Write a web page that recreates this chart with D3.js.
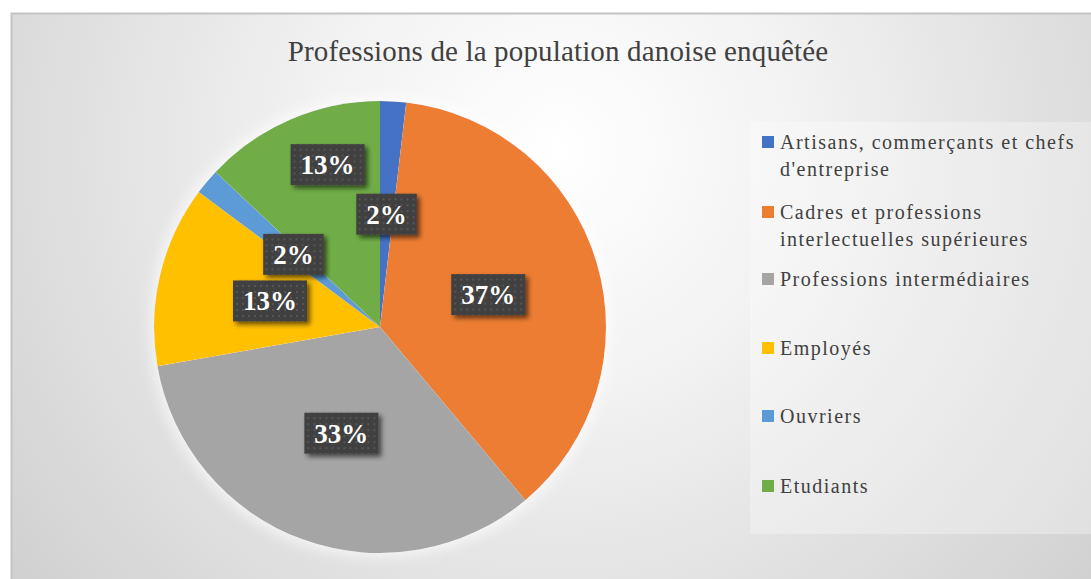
<!DOCTYPE html>
<html><head><meta charset="utf-8">
<script src="https://cdn.jsdelivr.net/npm/d3@7"></script>
<style>body{margin:0;background:#fff;overflow:hidden}svg{display:block}</style>
</head><body>
<svg id="chart" width="1091" height="579"></svg>
<script>
const title = "Professions de la population danoise enquêtée";
const categories = ["Artisans, commerçants et chefs d'entreprise","Cadres et professions interlectuelles supérieures","Professions intermédiaires","Employés","Ouvriers","Etudiants"];
const values = [1, 20, 18, 7, 1, 7];
const colors = ["#4472C4","#ED7D31","#A5A5A5","#FFC000","#5B9BD5","#70AD47"];

const W = 1091, H = 579;
const svg = d3.select("#chart");
const defs = svg.append("defs");
const font = "'Liberation Serif','Times New Roman',serif";

// background gradient
const rg = defs.append("radialGradient").attr("id","bg").attr("gradientUnits","userSpaceOnUse")
  .attr("cx",560).attr("cy",150).attr("r",700);
rg.append("stop").attr("offset","0").attr("stop-color","#ffffff");
rg.append("stop").attr("offset","0.35").attr("stop-color","#f2f2f2");
rg.append("stop").attr("offset","1").attr("stop-color","#d0d0d0");

const pat = defs.append("pattern").attr("id","dots").attr("patternUnits","userSpaceOnUse").attr("width",6).attr("height",6);
pat.append("rect").attr("width",6).attr("height",6).attr("fill","#404040");
pat.append("rect").attr("x",2).attr("y",2).attr("width",2).attr("height",2).attr("fill","#555555");

const sh = defs.append("filter").attr("id","shadow").attr("x","-30%").attr("y","-30%").attr("width","170%").attr("height","170%");
sh.append("feGaussianBlur").attr("in","SourceAlpha").attr("stdDeviation",2.5).attr("result","b");
sh.append("feOffset").attr("in","b").attr("dx",3).attr("dy",3).attr("result","o");
sh.append("feComponentTransfer").attr("in","o").attr("result","o2").append("feFuncA").attr("type","linear").attr("slope",0.6);
const m = sh.append("feMerge"); m.append("feMergeNode").attr("in","o2"); m.append("feMergeNode").attr("in","SourceGraphic");

const glow = defs.append("filter").attr("id","glow").attr("x","-20%").attr("y","-20%").attr("width","140%").attr("height","140%");
glow.append("feMorphology").attr("in","SourceAlpha").attr("operator","dilate").attr("radius",4).attr("result","d");
glow.append("feGaussianBlur").attr("in","d").attr("stdDeviation",6).attr("result","g");
glow.append("feFlood").attr("flood-color","#ffffff").attr("flood-opacity",0.6);
glow.append("feComposite").attr("in2","g").attr("operator","in").attr("result","gw");
const m2 = glow.append("feMerge"); m2.append("feMergeNode").attr("in","gw"); m2.append("feMergeNode").attr("in","SourceGraphic");

svg.append("rect").attr("x",11.5).attr("y",13.5).attr("width",W).attr("height",H)
  .attr("fill","url(#bg)").attr("stroke","#c4c4c4").attr("stroke-width",2);

svg.append("text").attr("x",558).attr("y",61).attr("text-anchor","middle")
  .attr("font-family",font).attr("font-size",29).attr("letter-spacing",0.15).attr("fill","#404040").text(title);

// pie
const cx = 380, cy = 327, R = 226;
const data = categories.map((c,i)=>({cat:c, value:values[i], color:colors[i]}));
const total = d3.sum(values);
const pie = d3.pie().value(d=>d.value).sort(null);
const arcs = pie(data);
const arc = d3.arc().innerRadius(0).outerRadius(R);
const g = svg.append("g").attr("transform",`translate(${cx},${cy})`);
g.append("g").attr("filter","url(#glow)").selectAll("path").data(arcs).join("path")
  .attr("d",arc).attr("fill",d=>d.data.color);

// labels
const fmt = d3.format(".0%");
// manual nudge for crowded label (Etudiants): radius factor and angle shift
const nudge = {5:{rf:1.51, da:0.095}};
const lg = g.append("g");
arcs.forEach((a,i)=>{
  let mid = (a.startAngle+a.endAngle)/2;
  let rf = 1;
  if(nudge[i]){ rf = nudge[i].rf; mid += nudge[i].da; }
  const r = R/2*rf;
  const x = Math.sin(mid)*r, y = -Math.cos(mid)*r;
  const grp = lg.append("g").attr("transform",`translate(${x},${y})`);
  const t = grp.append("text").attr("text-anchor","middle").attr("dy","0.35em")
    .attr("font-family",font).attr("font-weight","bold").attr("font-size",27).attr("fill","#fff")
    .text(fmt(a.data.value/total));
  const bw = t.node().getComputedTextLength();
  grp.insert("rect","text").attr("x",-bw/2-10).attr("y",-20.5).attr("width",bw+20).attr("height",41)
    .attr("fill","url(#dots)").attr("filter","url(#shadow)");
});

// legend
const lx = 750, ly = 122;
svg.append("rect").attr("x",lx).attr("y",ly).attr("width",W-lx).attr("height",412)
  .attr("fill","#ffffff").attr("fill-opacity",0.3);
const rowY = [142,212,279,348,416,486];
const leg = svg.append("g");
data.forEach((d,i)=>{
  const y = rowY[i];
  leg.append("rect").attr("x",762).attr("y",y-6).attr("width",12).attr("height",12).attr("fill",d.color);
  const t = leg.append("text").attr("x",780).attr("y",y)
    .attr("font-family",font).attr("font-size",20).attr("fill","#404040").attr("letter-spacing",1.5);
  const words = d.cat.split(" ");
  let line = [];
  let ts = t.append("tspan").attr("x",780).attr("dy","0.35em");
  words.forEach(w=>{
    line.push(w); ts.text(line.join(" "));
    if(ts.node().getComputedTextLength() > 305 && line.length>1){
      line.pop(); ts.text(line.join(" "));
      line=[w];
      ts = t.append("tspan").attr("x",780).attr("dy","1.35em").text(w);
    }
  });
});
</script>
</body></html>
